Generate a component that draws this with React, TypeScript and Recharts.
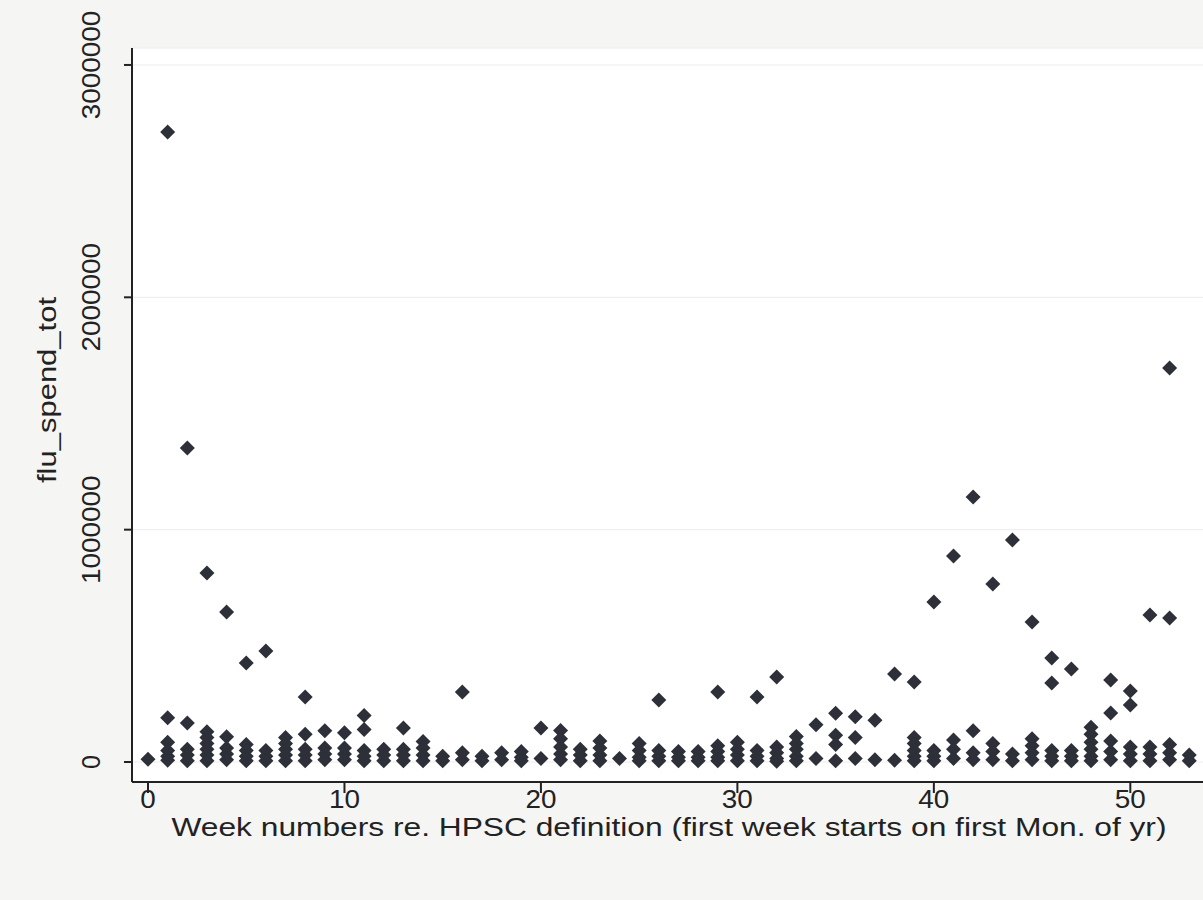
import { ScatterChart, Scatter, XAxis, YAxis, CartesianGrid, Label } from "recharts";

// week index -> spend values clustered near zero
const lowSpend: number[][] = [
  [12000],
  [190000, 85000, 50000, 25000, 8000],
  [168000, 55000, 30000, 5000],
  [130000, 105000, 80000, 55000, 30000, 5000],
  [109000, 60000, 35000, 10000],
  [75000, 50000, 25000, 5000],
  [50000, 25000, 5000],
  [105000, 80000, 55000, 30000, 5000],
  [120000, 55000, 30000, 5000],
  [135000, 60000, 35000, 10000],
  [126000, 60000, 35000, 10000],
  [200000, 140000, 50000, 25000, 5000],
  [55000, 30000, 5000],
  [146000, 55000, 30000, 5000],
  [88000, 60000, 30000, 5000],
  [25000, 5000],
  [40000, 10000],
  [25000, 5000],
  [40000, 10000],
  [45000, 20000, 5000],
  [146000, 15000],
  [136000, 100000, 65000, 35000, 10000],
  [55000, 30000, 5000],
  [90000, 60000, 30000, 5000],
  [15000],
  [80000, 50000, 20000, 5000],
  [50000, 25000, 5000],
  [45000, 20000, 5000],
  [45000, 20000, 5000],
  [70000, 45000, 20000, 5000],
  [85000, 55000, 30000, 5000],
  [50000, 25000, 5000],
  [65000, 40000, 15000, 3000],
  [110000, 80000, 55000, 25000, 5000],
  [160000, 15000],
  [210000, 115000, 75000, 5000],
  [195000, 105000, 15000],
  [180000, 10000],
  [8000],
  [105000, 80000, 50000, 25000, 5000],
  [50000, 25000, 5000],
  [95000, 55000, 15000],
  [135000, 40000, 10000],
  [80000, 45000, 10000],
  [35000, 5000],
  [100000, 70000, 40000, 10000],
  [50000, 25000, 5000],
  [50000, 25000, 5000],
  [150000, 120000, 85000, 55000, 25000, 5000],
  [211000, 90000, 45000, 10000],
  [65000, 35000, 5000],
  [65000, 35000, 5000],
  [75000, 40000, 10000],
  [30000, 5000],
];

// the larger weekly totals
const peakWeeks = [1, 2, 3, 4, 5, 6, 8, 16, 26, 29, 31, 32, 38, 39, 40, 41, 42, 43, 44, 45, 46, 46, 47, 49, 50, 50, 51, 52, 52];
const peakSpend = [
  2712000, 1352000, 814000, 646000, 426000, 478000, 280000, 301000, 267000, 301000, 280000, 366000,
  379000, 344000, 689000, 887000, 1141000, 766000, 956000, 603000, 448000, 340000, 400000, 353000,
  306000, 245000, 633000, 1696000, 620000,
];

const xTicks = [0, 10, 20, 30, 40, 50];
const yTicks = [0, 1000000, 2000000, 3000000];

const points = [
  ...lowSpend.flatMap((vals, week) => vals.map((v) => ({ week, spend: v }))),
  ...peakWeeks.map((week, i) => ({ week, spend: peakSpend[i] })),
];

const FONT = "'Liberation Sans', Arial, sans-serif";
const INK = "#222";

function Diamond(props: any) {
  const { cx, cy } = props;
  const r = 7.5;
  return (
    <polygon
      points={`${cx},${cy - r} ${cx + r},${cy} ${cx},${cy + r} ${cx - r},${cy}`}
      fill="#2d3038"
    />
  );
}

function YTick({ y, payload }: any) {
  const s = String(payload.value);
  return (
    <text
      x={91}
      y={y}
      transform={`rotate(-90, 91, ${y})`}
      textAnchor="middle"
      dominantBaseline="central"
      fontSize={25}
      fontFamily={FONT}
      fill={INK}
      textLength={s.length > 1 ? s.length * 15.5 : undefined}
      lengthAdjust="spacingAndGlyphs"
    >
      {s}
    </text>
  );
}

function XTick({ x, payload }: any) {
  const s = String(payload.value);
  return (
    <text
      x={x}
      y={799}
      textAnchor="middle"
      dominantBaseline="central"
      fontSize={25}
      fontFamily={FONT}
      fill={INK}
      textLength={s.length * 15.5}
      lengthAdjust="spacingAndGlyphs"
    >
      {s}
    </text>
  );
}

export default function App() {
  return (
    <div style={{ position: "absolute", left: 0, top: 0, width: 1203, height: 900, background: "#f5f5f4" }}>
      <ScatterChart width={1203} height={900} margin={{ top: 48, right: 0, bottom: 0, left: 0 }}>
        <CartesianGrid vertical={false} stroke="#ececec" fill="#ffffff" />
        <XAxis
          type="number"
          dataKey="week"
          domain={[-0.815, 53.7]}
          allowDataOverflow
          ticks={xTicks}
          height={118}
          tickSize={11}
          tick={<XTick />}
          axisLine={{ stroke: INK, strokeWidth: 2 }}
          tickLine={{ stroke: INK, strokeWidth: 2 }}
        >
          <Label
            content={() => (
              <text
                x={669}
                y={827}
                textAnchor="middle"
                dominantBaseline="central"
                fontSize={25}
                fontFamily={FONT}
                fill={INK}
                textLength={995}
                lengthAdjust="spacingAndGlyphs"
              >
                Week numbers re. HPSC definition (first week starts on first Mon. of yr)
              </text>
            )}
          />
        </XAxis>
        <YAxis
          type="number"
          dataKey="spend"
          domain={[-86000, 3073000]}
          allowDataOverflow
          ticks={yTicks}
          width={132}
          tickSize={8}
          tick={<YTick />}
          axisLine={{ stroke: INK, strokeWidth: 2 }}
          tickLine={{ stroke: INK, strokeWidth: 2 }}
        >
          <Label
            content={() => (
              <text
                x={47}
                y={390}
                transform="rotate(-90, 47, 390)"
                textAnchor="middle"
                dominantBaseline="central"
                fontSize={25}
                fontFamily={FONT}
                fill={INK}
                textLength={186}
                lengthAdjust="spacingAndGlyphs"
              >
                flu_spend_tot
              </text>
            )}
          />
        </YAxis>
        <Scatter data={points} shape={<Diamond />} isAnimationActive={false} />
      </ScatterChart>
    </div>
  );
}
